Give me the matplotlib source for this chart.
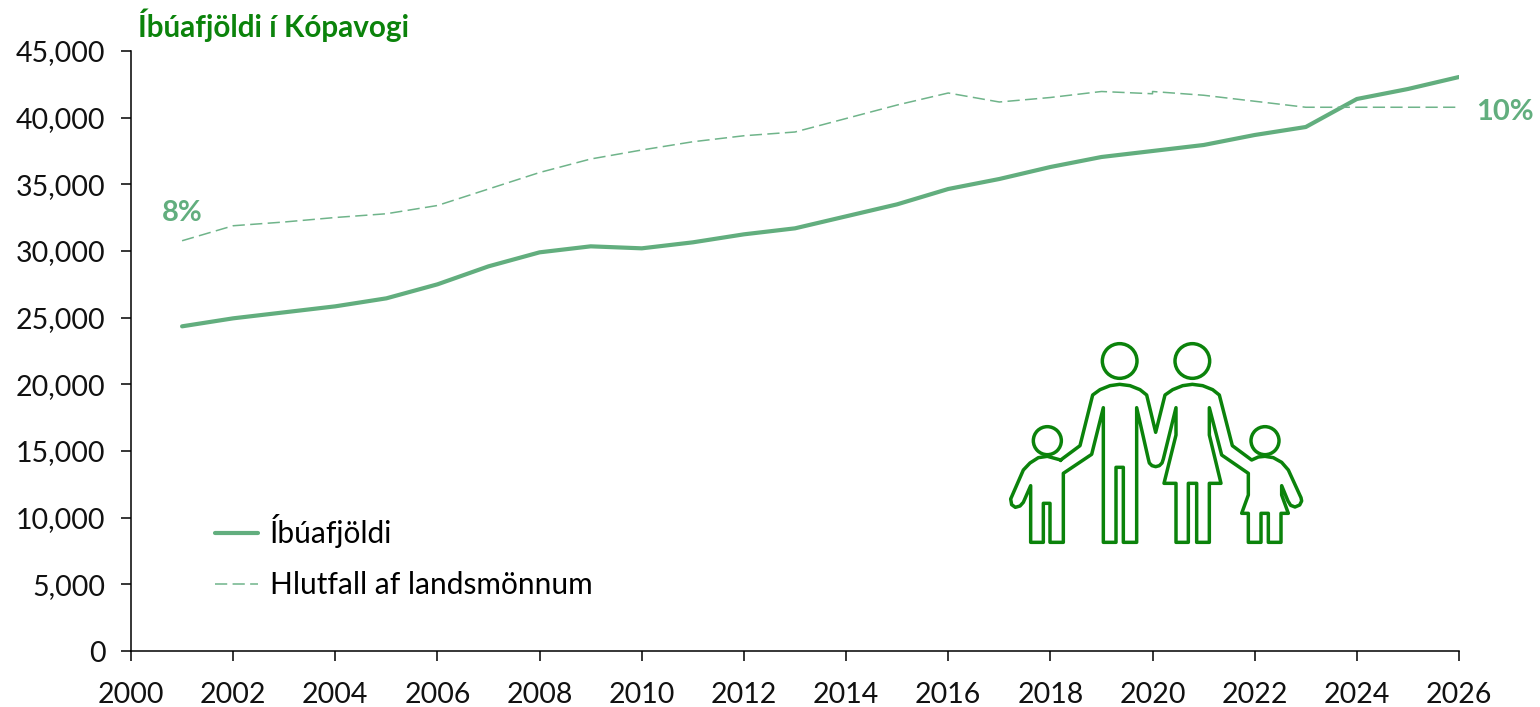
import matplotlib
matplotlib.use('Agg')
import matplotlib.pyplot as plt
from matplotlib.patches import Circle
from matplotlib.ticker import FuncFormatter

plt.rcParams['font.family'] = ['Lato', 'DejaVu Sans']

# data
years = [2001, 2002, 2003, 2004, 2005, 2006, 2007, 2008, 2009, 2010, 2011, 2012, 2013,
         2014, 2015, 2016, 2017, 2018, 2019, 2020, 2021, 2022, 2023, 2024, 2025, 2026]
population = [24350, 24950, 25400, 25850, 26450, 27500, 28850, 29900, 30350, 30200, 30650, 31250, 31700,
              32600, 33500, 34650, 35400, 36300, 37050, 37500, 37950, 38700, 39300, 41400, 42150, 43050]

# the share series has a small step at 2020, so 2020 is in there twice
share_years = [2001, 2002, 2003, 2004, 2005, 2006, 2007, 2008, 2009, 2010, 2011, 2012, 2013,
               2014, 2015, 2016, 2017, 2018, 2019, 2020, 2020, 2021, 2022, 2023, 2024, 2025, 2026]
share = [8.47, 8.67, 8.72, 8.78, 8.83, 8.94, 9.16, 9.38, 9.56, 9.68, 9.79, 9.87, 9.92,
         10.10, 10.28, 10.44, 10.32, 10.38, 10.46, 10.43, 10.46, 10.41, 10.33, 10.25, 10.25, 10.25, 10.25]

x_ticks = list(range(2000, 2027, 2))
y_ticks = list(range(0, 45001, 5000))

title = 'Íbúafjöldi í Kópavogi'
label_population = 'Íbúafjöldi'
label_share = 'Hlutfall af landsmönnum'

GREEN = '#0B830B'
LINE = '#62AE7E'
DASH = '#6FB48A'

W, H = 1540, 707
fig = plt.figure(figsize=(W / 100, H / 100), dpi=100)
ax = fig.add_axes([131 / W, (H - 651) / H, 1328 / W, 600 / H])

l1, = ax.plot(years, population, color=LINE, lw=3.0, solid_capstyle='round', solid_joinstyle='round')
ax.set_xlim(2000, 2026)
ax.set_ylim(0, 45000)
ax.set_xticks(x_ticks)
ax.set_yticks(y_ticks)
ax.yaxis.set_major_formatter(FuncFormatter(lambda v, p: f'{int(v):,}'))
ax.tick_params(axis='both', labelsize=20.5, length=7, width=1.1, color='black', labelcolor='#111111')
ax.tick_params(axis='x', pad=15)
ax.tick_params(axis='y', pad=11.5)
for s in ['top', 'right']:
    ax.spines[s].set_visible(False)
for s in ['left', 'bottom']:
    ax.spines[s].set_linewidth(1.1)

# share on a hidden second axis
ax2 = ax.twinx()
l2, = ax2.plot(share_years, share, color=DASH, lw=1.1, dashes=(8, 3.5))
ax2.set_ylim(3, 11)
ax2.axis('off')

ax.text(2001.0, 32850, '8%', color=LINE, fontsize=21, fontweight='bold', ha='center', va='center')
ax.text(2026.9, 40400, '10%', color=LINE, fontsize=21, fontweight='bold', ha='center', va='center',
        clip_on=False)

fig.text(138 / W, (H - 25) / H, title, color=GREEN, fontsize=21.3, fontweight='bold', ha='left', va='center')

fig.legend([l1, l2], [label_population, label_share], loc='lower left',
           bbox_to_anchor=(215 / W, (H - 599) / H), frameon=False, fontsize=21.5,
           handlelength=1.45, handletextpad=0.4, labelspacing=0.77, borderpad=0, borderaxespad=0)

# family icon, traced in its own little axes
icon = fig.add_axes([1000 / W, (H - 555) / H, 310 / W, 220 / H])
icon.set_xlim(0, 930)
icon.set_ylim(660, 0)
icon.axis('off')
outline = [
    (182, 375), (240, 332), (278, 180), (300, 164), (330, 152), (359, 148), (390, 152), (420, 164), (440, 180),
    (467, 292), (495, 180), (518, 164), (548, 152), (577, 148), (608, 152), (638, 164), (658, 180),
    (697, 332), (755, 375), (775, 366), (795, 364), (820, 368), (845, 382), (865, 405),
    (903, 488), (905, 498), (899, 510), (885, 516), (872, 511), (864, 498), (845, 452), (845, 480), (865, 535),
    (843, 535), (843, 622),
    (805, 622), (805, 535), (783, 535), (783, 622), (745, 622), (745, 535), (725, 535), (745, 480), (745, 415),
    (665, 360), (628, 218), (628, 300), (663, 445), (628, 445), (628, 622), (590, 622), (590, 445), (565, 445),
    (565, 622), (528, 622), (528, 445), (492, 445), (528, 300), (528, 218), (490, 372), (486, 384), (478, 392),
    (467, 395), (456, 392), (448, 384), (445, 372), (410, 218), (410, 622), (370, 622), (370, 397), (348, 397),
    (348, 622), (310, 622),
    (310, 218), (275, 358), (190, 415), (190, 622), (150, 622), (150, 505), (130, 505), (130, 622), (92, 622),
    (92, 452), (70, 502), (60, 513), (46, 517), (35, 509), (32, 492), (70, 405), (90, 384), (115, 368), (142, 364),
    (182, 375),
]
icon.plot([p[0] for p in outline], [p[1] for p in outline], color=GREEN, lw=2.5, solid_joinstyle='round')
for cx, cy, r in [(142, 317, 42), (359, 78, 52), (577, 78, 52), (795, 317, 42)]:
    icon.add_patch(Circle((cx, cy), r, fill=False, ec=GREEN, lw=2.5))

fig.savefig('out.png', dpi=100)
